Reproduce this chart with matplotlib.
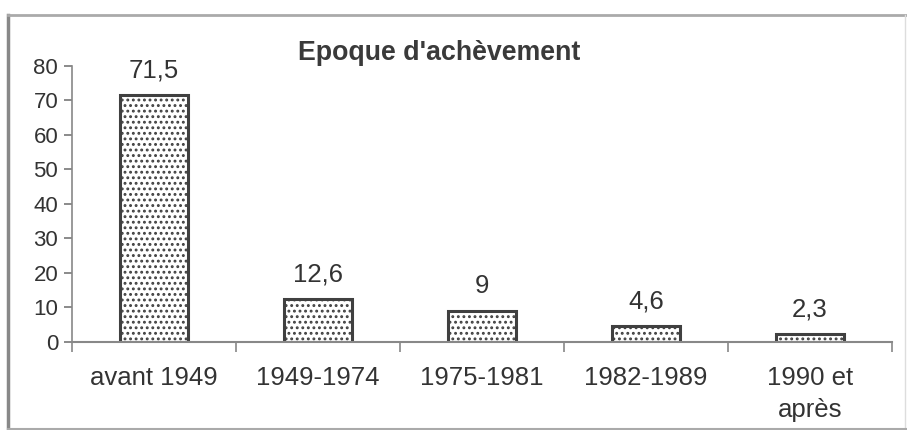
import matplotlib.pyplot as plt
import matplotlib.lines as mlines

plt.rcParams['font.family'] = ['Liberation Sans', 'DejaVu Sans']
plt.rcParams['hatch.color'] = '#8a8a8a'
plt.rcParams['hatch.linewidth'] = 1.3

# donnees
periodes = ['avant 1949', '1949-1974', '1975-1981', '1982-1989', '1990 et\naprès']
valeurs = [71.5, 12.6, 9, 4.6, 2.3]
etiquettes = ['71,5', '12,6', '9', '4,6', '2,3']
titre = "Epoque d'achèvement"

fig = plt.figure(figsize=(9.07, 4.30), dpi=100)
ax = fig.add_axes([0.0794, 0.2047, 0.904, 0.6419])

x = list(range(len(periodes)))
ax.bar(x, valeurs, width=0.42, color='white', edgecolor='#404040',
       linewidth=2.2, hatch='...')

for xi, v, lab in zip(x, valeurs, etiquettes):
    ax.annotate(lab, (xi, v), xytext=(0, 9), textcoords='offset points',
                ha='center', va='bottom', fontsize=18.5, color='#333333')

ax.set_xlim(-0.5, len(periodes) - 0.5)
ax.set_ylim(0, 80)
ax.set_yticks(range(0, 81, 10))
ax.tick_params(axis='y', labelsize=16, colors='#333333', length=6,
               width=1.2, pad=4, color='#777777')

ax.set_xticks(x)
ax.set_xticklabels(periodes, linespacing=1.45)
ax.set_xticks([i - 0.5 for i in range(len(periodes) + 1)], minor=True)
ax.tick_params(axis='x', which='major', length=0, pad=17, labelsize=18.5,
               colors='#333333')
ax.tick_params(axis='x', which='minor', length=7, width=1.2, color='#888888')

for s in ['top', 'right']:
    ax.spines[s].set_visible(False)
ax.spines['left'].set_color('#888888')
ax.spines['bottom'].set_color('#888888')
ax.spines['left'].set_linewidth(1.2)
ax.spines['bottom'].set_linewidth(1.5)

fig.text(0.484, 0.877, titre, ha='center', va='center', fontsize=19.3,
         fontweight='bold', color='#3a3a3a')

# cadre autour du graphique
W, H = 907, 430
cadre = [
    ((8 / W, 8 / W), (0, 1 - 15 / H), '#888888', 2.5),
    ((8 / W, 1), (1 - 15 / H, 1 - 15 / H), '#aaaaaa', 2.0),
    ((905 / W, 905 / W), (0, 1 - 15 / H), '#dddddd', 1.0),
    ((8 / W, 1), (1 / H, 1 / H), '#aaaaaa', 1.5),
]
for xs, ys, c, lw in cadre:
    fig.add_artist(mlines.Line2D(xs, ys, color=c, linewidth=lw,
                                 transform=fig.transFigure))

plt.savefig('out.png', dpi=100)
